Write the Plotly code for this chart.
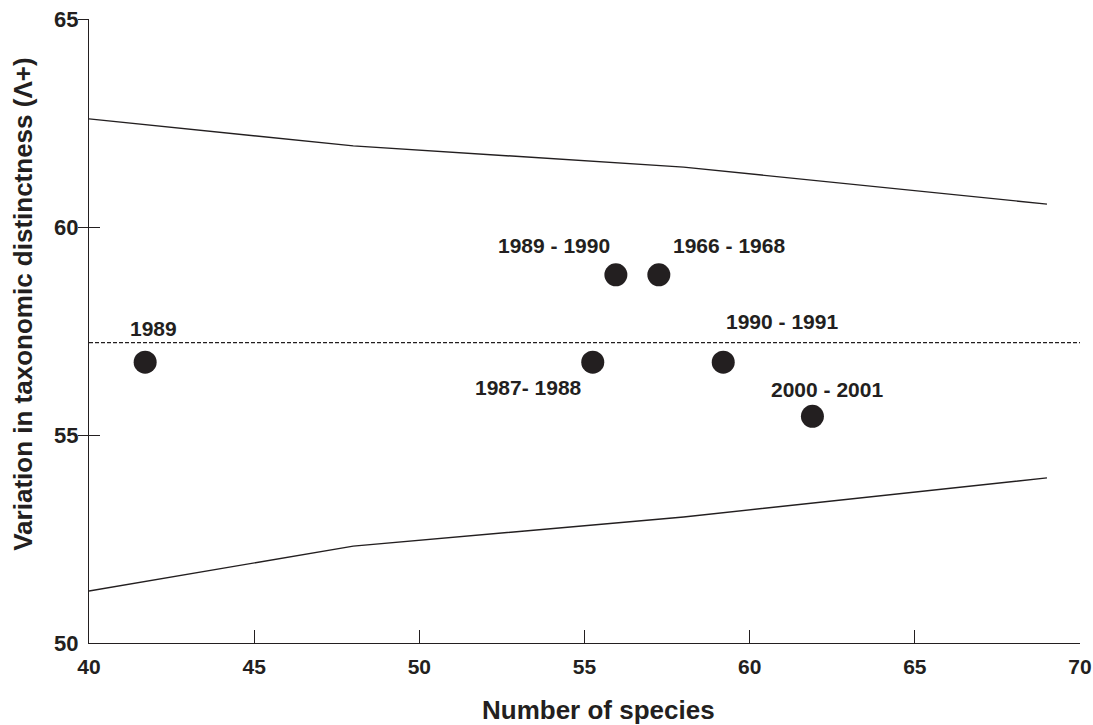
import plotly.graph_objects as go

# Data
point_labels = ["1989", "1989 - 1990", "1966 - 1968", "1987- 1988", "1990 - 1991", "2000 - 2001"]
species = [41.7, 55.95, 57.25, 55.25, 59.2, 61.9]
delta = [56.75, 58.85, 58.85, 56.75, 56.75, 55.45]

mean_x = [40, 70]
mean_y = [57.22, 57.22]

upper_x = [40, 48, 58, 69]
upper_y = [62.6, 61.95, 61.44, 60.55]
lower_x = [40, 48, 58, 69]
lower_y = [51.25, 52.33, 53.03, 53.97]

x_ticks = [40, 45, 50, 55, 60, 65, 70]
y_ticks = [50, 55, 60, 65]
y_cross_ticks = [55, 60, 65]

x_title = "Number of species"
y_title = "Variation in taxonomic distinctness (Λ+)"

# label offsets in pixels (style)
label_dx = [8, -62, 70, -64, 59, 15]
label_dy = [34, 29, 29, -25, 41, 27]

INK = "#231f20"
FONT = "Liberation Sans, Arial, sans-serif"

fig = go.Figure()
fig.add_trace(go.Scatter(x=upper_x, y=upper_y, mode="lines",
                         line=dict(color=INK, width=1.4), showlegend=False, hoverinfo="skip"))
fig.add_trace(go.Scatter(x=lower_x, y=lower_y, mode="lines",
                         line=dict(color=INK, width=1.4), showlegend=False, hoverinfo="skip"))
fig.add_trace(go.Scatter(x=mean_x, y=mean_y, mode="lines",
                         line=dict(color=INK, width=1.4, dash="4px,2px"), showlegend=False, hoverinfo="skip"))
fig.add_trace(go.Scatter(x=species, y=delta, mode="markers",
                         marker=dict(color=INK, size=23, line=dict(width=0)),
                         showlegend=False))
# helper invisible traces for the crossing tick axes
fig.add_trace(go.Scatter(x=[40], y=[50], yaxis="y2", mode="markers",
                         marker=dict(opacity=0), showlegend=False, hoverinfo="skip"))
fig.add_trace(go.Scatter(x=[40], y=[50], yaxis="y3", mode="markers",
                         marker=dict(opacity=0), showlegend=False, hoverinfo="skip"))

for t, x, y, dx, dy in zip(point_labels, species, delta, label_dx, label_dy):
    fig.add_annotation(x=x, y=y, text="<b>" + t + "</b>", showarrow=False,
                       xshift=dx, yshift=dy,
                       font=dict(family=FONT, size=21, color=INK))

# axis titles as annotations (positioned like the reference)
fig.add_annotation(xref="paper", yref="paper", x=0.5, y=0, xanchor="center", yanchor="middle",
                   xshift=14, yshift=-67, showarrow=False, text="<b>" + x_title + "</b>",
                   font=dict(family=FONT, size=26, color=INK))
fig.add_annotation(xref="paper", yref="paper", x=0, y=0.542, xanchor="center", yanchor="middle",
                   xshift=-66, textangle=-90, showarrow=False, text="<b>" + y_title + "</b>",
                   font=dict(family=FONT, size=26, color=INK))

fig.update_layout(
    width=1093, height=725,
    margin=dict(l=89, r=13, t=19, b=82),
    plot_bgcolor="white", paper_bgcolor="white",
    font=dict(family=FONT, color=INK),
    xaxis=dict(range=[40, 70], tickvals=x_ticks, ticktext=[f"<b>{v}</b>" for v in x_ticks],
               ticks="inside", ticklen=13, tickwidth=1.4, tickcolor=INK, automargin=False,
               showline=True, linecolor=INK, linewidth=1.4, showgrid=False, zeroline=False,
               tickfont=dict(size=21, color=INK), ticklabelstandoff=5, ticklabeloverflow="allow"),
    yaxis=dict(range=[50, 65], tickvals=y_ticks, ticktext=[f"<b>{v}</b>" for v in y_ticks],
               ticks="", showline=True, linecolor=INK, linewidth=1.4, showgrid=False, zeroline=False,
               tickfont=dict(size=22, color=INK), ticklabelstandoff=5, automargin=False,
               ticklabeloverflow="allow"),
    yaxis2=dict(range=[50, 65], overlaying="y", side="left", tickvals=y_cross_ticks,
                ticks="outside", ticklen=10, tickwidth=1.4, tickcolor=INK, automargin=False,
                showticklabels=False, showline=False, showgrid=False, zeroline=False),
    yaxis3=dict(range=[50, 65], overlaying="y", side="left", tickvals=y_cross_ticks,
                ticks="inside", ticklen=11, tickwidth=1.4, tickcolor=INK, automargin=False,
                showticklabels=False, showline=False, showgrid=False, zeroline=False),
)

fig.write_html("out.html", config={"displayModeBar": False},
               post_script="document.body.style.margin='0';document.body.style.overflow='hidden';")
